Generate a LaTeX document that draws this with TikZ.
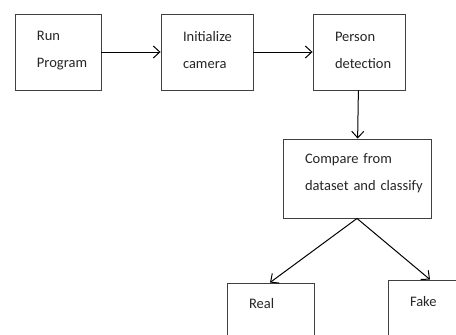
\documentclass[tikz,border=0pt]{standalone}
\usepackage{fontspec}
\setmainfont{Carlito}
\usetikzlibrary{arrows.meta}
\hbadness=10000 \hfuzz=100pt
\tikzset{
  box/.style={draw=black!75, line width=0.9pt, minimum height=76pt, inner ysep=0pt,
    align=left, text=black!85, font=\fontsize{14.5pt}{27pt}\selectfont, text height=6pt},
  conn/.style={line width=1pt, -{Straight Barb[length=6.5pt,width=12pt,line width=1pt]}}
}
\begin{document}
\begin{tikzpicture}[x=1pt,y=-1pt]
\clip (0,0) rectangle (456,335);
\fill[white] (0,0) rectangle (456,335);
\node[box, minimum width=86pt, inner xsep=22pt, text width=42pt] (run) at (58,52) {Run\\Program};
\node[box, minimum width=92pt, inner xsep=22pt, text width=48pt] (init) at (207,52) {Initialize\\camera};
\node[box, minimum width=92pt, inner xsep=22pt, text width=48pt] (det) at (359,52) {Person\\detection};
\node[box, minimum width=148pt, minimum height=79pt, inner xsep=22pt, text width=104pt, text height=0pt] (cmp) at (357,178.5) {\mbox{Compare from}\\\mbox{dataset and classify}};
\node[box, minimum width=87pt, inner xsep=22pt, text width=43pt, text height=10.5pt, text depth=36.5pt] (real) at (270.5,321) {Real};
\node[box, minimum width=87pt, inner xsep=22pt, text width=43pt, text height=10.5pt, text depth=34.5pt] (fake) at (431.5,318) {Fake};
\draw[conn] (run) -- (init);
\draw[conn] (init) -- (det);
\draw[conn] (det) -- (cmp);
\draw[conn] (cmp.south) -- (real.north west -| 270,0);
\draw[conn] (cmp.south) -- (fake.north -| 430,0);
\end{tikzpicture}
\end{document}
